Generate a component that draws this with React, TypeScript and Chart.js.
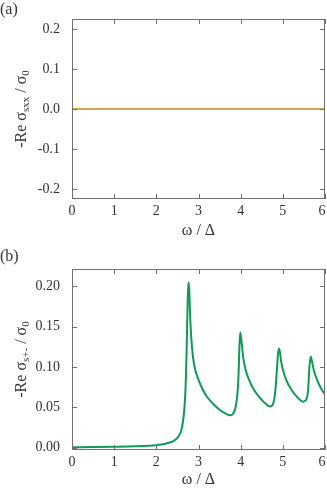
import React, { useEffect, useRef } from "react";
import { Chart, registerables } from "chart.js";

Chart.register(...registerables);

const xTicks = [0, 1, 2, 3, 4, 5, 6];
const yTicksA = [-0.2, -0.1, 0, 0.1, 0.2];
const yTicksB = [0, 0.05, 0.1, 0.15, 0.2];

const omegaA = [0, 1, 2, 3, 4, 5, 6];
const sigmaXX = [0, 0, 0, 0, 0, 0, 0];

const omegaB = [
  0, 0.5, 1.0, 1.5, 2.0, 2.2, 2.4, 2.5, 2.55, 2.6, 2.65, 2.68, 2.7, 2.72, 2.74, 2.76,
  2.78, 2.8, 2.83, 2.87, 2.92, 3.0, 3.1, 3.2, 3.35, 3.5, 3.65, 3.75, 3.82, 3.88, 3.92,
  3.95, 3.97, 3.99, 4.02, 4.06, 4.12, 4.2, 4.3, 4.45, 4.6, 4.7, 4.78, 4.83, 4.87, 4.9,
  4.93, 4.96, 5.0, 5.08, 5.2, 5.35, 5.48, 5.55, 5.6, 5.63, 5.66, 5.69, 5.74, 5.82, 5.9, 6.0,
];
const sigmaSpm = [
  0.0005, 0.0006, 0.0009, 0.0015, 0.003, 0.0045, 0.008, 0.012, 0.016, 0.023, 0.04, 0.06,
  0.085, 0.125, 0.175, 0.205, 0.195, 0.165, 0.135, 0.112, 0.097, 0.084, 0.072, 0.063,
  0.054, 0.047, 0.042, 0.04, 0.042, 0.05, 0.065, 0.09, 0.125, 0.143, 0.132, 0.112, 0.096,
  0.084, 0.073, 0.062, 0.054, 0.051, 0.056, 0.075, 0.105, 0.123, 0.119, 0.107, 0.097,
  0.084, 0.072, 0.062, 0.057, 0.059, 0.072, 0.1, 0.113, 0.107, 0.095, 0.083, 0.074, 0.066,
];

const FONT = "'Liberation Serif', 'DejaVu Serif', serif";
const AXIS_COLOR = "#707070";
const TEXT_COLOR = "#333333";

type Seg = { t: string; sub?: boolean };

function makeDecor(panel: string, yTitle: Seg[], xTitleY: number, panelY: number, yTicks: number[]) {
  return {
    id: "decor" + panel,
    afterDraw(chart: any) {
      const ctx = chart.ctx as CanvasRenderingContext2D;
      const a = chart.chartArea;
      const xs = chart.scales.x;
      const ys = chart.scales.y;
      ctx.save();
      ctx.strokeStyle = AXIS_COLOR;
      ctx.lineWidth = 1;
      ctx.strokeRect(a.left + 0.5, a.top + 0.5, a.right - a.left - 1, a.bottom - a.top - 1);
      const tl = 5;
      ctx.beginPath();
      for (const v of xTicks) {
        const px = Math.round(xs.getPixelForValue(v)) + 0.5;
        ctx.moveTo(px, a.bottom);
        ctx.lineTo(px, a.bottom - tl);
        ctx.moveTo(px, a.top);
        ctx.lineTo(px, a.top + tl);
      }
      for (const v of yTicks) {
        const py = Math.round(ys.getPixelForValue(v)) + 0.5;
        ctx.moveTo(a.left, py);
        ctx.lineTo(a.left + tl, py);
        ctx.moveTo(a.right, py);
        ctx.lineTo(a.right - tl, py);
      }
      ctx.stroke();

      ctx.fillStyle = TEXT_COLOR;
      // x tick labels
      ctx.font = `14px ${FONT}`;
      ctx.textAlign = "center";
      ctx.textBaseline = "middle";
      for (const v of xTicks) {
        const label = String(v);
        const w = ctx.measureText(label).width;
        let px = xs.getPixelForValue(v);
        px = Math.min(px, chart.width - 1.5 - w / 2);
        ctx.fillText(label, px, a.bottom + 12);
      }

      ctx.font = `16px ${FONT}`;
      ctx.textAlign = "left";
      ctx.fillText(panel, 0, panelY);

      ctx.textAlign = "center";
      ctx.font = `16px ${FONT}`;
      ctx.fillText("ω / Δ", (a.left + a.right) / 2, xTitleY);

      const big = `16px ${FONT}`;
      const small = `11px ${FONT}`;
      let total = 0;
      for (const s of yTitle) {
        ctx.font = s.sub ? small : big;
        total += ctx.measureText(s.t).width;
      }
      ctx.translate(22, (a.top + a.bottom) / 2);
      ctx.rotate(-Math.PI / 2);
      ctx.textAlign = "left";
      ctx.textBaseline = "middle";
      let x = -total / 2;
      for (const s of yTitle) {
        ctx.font = s.sub ? small : big;
        ctx.fillText(s.t, x, s.sub ? 4 : 0);
        x += ctx.measureText(s.t).width;
      }
      ctx.restore();
    },
  };
}

function Panel(props: {
  height: number;
  top: number;
  xs: number[];
  ys: number[];
  color: string;
  yMin: number;
  yMax: number;
  yTicks: number[];
  decimals: number;
  padTop: number;
  panel: string;
  yTitle: Seg[];
  xTitleY: number;
  panelY: number;
}) {
  const ref = useRef<HTMLCanvasElement>(null);
  useEffect(() => {
    const canvas = ref.current!;
    const data = props.xs.map((x, i) => ({ x, y: props.ys[i] }));
    const chart = new Chart(canvas, {
      type: "line",
      data: {
        datasets: [
          {
            data,
            borderColor: props.color,
            borderWidth: 2,
            pointRadius: 0,
            cubicInterpolationMode: "monotone",
            fill: false,
          },
        ],
      },
      options: {
        responsive: false,
        animation: false,
        events: [],
        layout: { padding: { left: 0, right: 2, top: props.padTop, bottom: 0 } },
        plugins: { legend: { display: false }, tooltip: { enabled: false } },
        scales: {
          x: {
            type: "linear",
            min: 0,
            max: 6,
            grid: { display: false },
            border: { display: false },
            afterBuildTicks: (s: any) => {
              s.ticks = xTicks.map((v) => ({ value: v }));
            },
            afterFit: (s: any) => {
              s.height = 41;
            },
            ticks: { display: false },
          },
          y: {
            type: "linear",
            min: props.yMin,
            max: props.yMax,
            grid: { display: false },
            border: { display: false },
            afterBuildTicks: (s: any) => {
              s.ticks = props.yTicks.map((v) => ({ value: v }));
            },
            afterFit: (s: any) => {
              s.width = 72;
            },
            ticks: {
              color: TEXT_COLOR,
              font: { family: FONT, size: 14 },
              padding: 4,
              callback: (v: any) => Number(v).toFixed(props.decimals),
            },
          },
        },
      },
      plugins: [makeDecor(props.panel, props.yTitle, props.xTitleY, props.panelY, props.yTicks)],
    } as any);
    return () => chart.destroy();
  }, []);
  return (
    <canvas
      ref={ref}
      width={327}
      height={props.height}
      style={{ display: "block", position: "absolute", left: 0, top: props.top, width: 327, height: props.height }}
    />
  );
}

export default function App() {
  return (
    <div style={{ position: "absolute", left: 0, top: 0, width: 327, height: 491, background: "#fff" }}>
      <Panel
        height={240}
        top={0}
        xs={omegaA}
        ys={sigmaXX}
        color="#d9a54c"
        yMin={-0.225}
        yMax={0.225}
        yTicks={yTicksA}
        decimals={1}
        padTop={19}
        panel="(a)"
        yTitle={[{ t: "-Re σ" }, { t: "sxx", sub: true }, { t: " / σ" }, { t: "0", sub: true }]}
        xTitleY={231}
        panelY={10}
      />
      <Panel
        height={251}
        top={240}
        xs={omegaB}
        ys={sigmaSpm}
        color="#0f9a55"
        yMin={-0.003}
        yMax={0.2215}
        yTicks={yTicksB}
        decimals={2}
        padTop={29}
        panel="(b)"
        yTitle={[{ t: "-Re σ" }, { t: "s+-", sub: true }, { t: " / σ" }, { t: "0", sub: true }]}
        xTitleY={240}
        panelY={17}
      />
    </div>
  );
}
